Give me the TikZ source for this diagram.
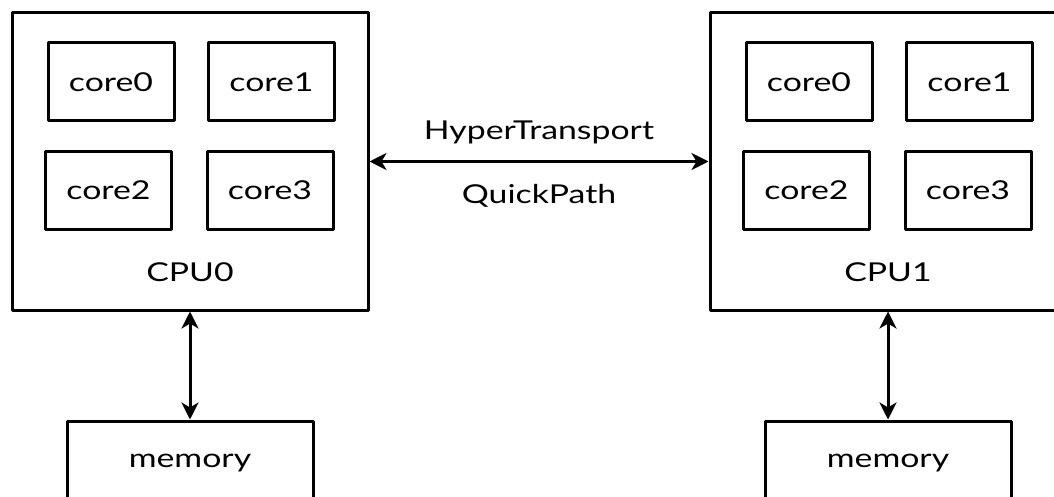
\documentclass[tikz,border=0pt]{standalone}
\usepackage{fontspec}
\setmainfont[FakeStretch=1.3]{Lato}
\usetikzlibrary{arrows.meta}
\begin{document}
\begin{tikzpicture}[x=1pt, y=1pt, line width=3pt, line join=round, >={Stealth[length=17pt, width=17pt, inset=5pt]},
	font=\fontsize{26}{30}\selectfont,
	cpubox/.style={draw, minimum width=356pt, minimum height=297pt},
	corebox/.style={draw, minimum width=126pt, minimum height=78pt},
	membox/.style={draw, minimum width=246pt, minimum height=84pt}]
	\useasboundingbox (0,0) rectangle (1054,496);
	\clip (0,0) rectangle (1054,496); % the frame cuts off the lower boxes
	% two processors with four cores each
	\foreach \n/\cx in {0/190, 1/888} {
		\node[cpubox] (cpu\n) at (\cx,334.5) {};
		\node (cpulabel\n) at (\cx,224) {CPU\n};
		\node[corebox] (core\n-0) at (\cx-79,414) {core0};
		\node[corebox] (core\n-1) at (\cx+81.5,414) {core1};
		\node[corebox] (core\n-2) at (\cx-81.5,305.5) {core2};
		\node[corebox] (core\n-3) at (\cx+80,305.5) {core3};
		\node[membox] (mem\n) at (\cx,33) {memory};
		\draw[<->] (cpu\n.south) -- (mem\n.north);
	}
	% link between the processors
	\draw[<->] (cpu0.east) -- (cpu1.west) node[midway, above=13pt] {HyperTransport} node[midway, below=18pt] {QuickPath};
\end{tikzpicture}
\end{document}
